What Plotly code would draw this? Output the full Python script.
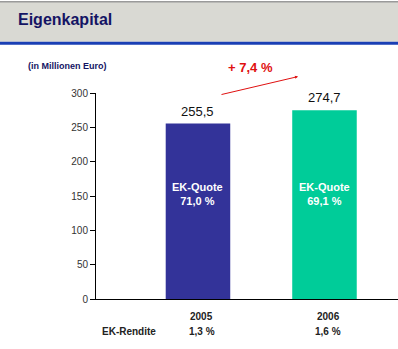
import plotly.graph_objects as go

# Equity (Eigenkapital) in million euro
years = ["2005", "2006"]
equity = [255.5, 274.7]
equity_ratio = [71.0, 69.1]      # EK-Quote in %
return_on_equity = [1.3, 1.6]    # EK-Rendite in %
growth_pct = 7.4
bar_colors = ["#333399", "#00CC99"]
y_ticks = [0, 50, 100, 150, 200, 250, 300]

W_PAGE, H_PAGE = 398, 349
L, R, T, B = 96, 398, 92.5, 299.5
PW, PH = R - L, B - T


def px(x):
    return (x - L) / PW


def py(y):
    return (B - y) / PH


def de(v):
    return f"{v:.1f}".replace(".", ",")


FONT = "Liberation Sans, Arial, sans-serif"

fig = go.Figure()
fig.add_trace(go.Bar(
    x=years, y=equity, width=0.51,
    marker=dict(color=bar_colors, line=dict(width=0)),
    hoverinfo="skip",
))

shapes = [
    # header band
    dict(type="rect", xref="paper", yref="paper", x0=px(0), x1=px(W_PAGE),
         y0=py(41), y1=py(0), fillcolor="#d9d9d3", line=dict(width=0), layer="below"),
    dict(type="rect", xref="paper", yref="paper", x0=px(0), x1=px(W_PAGE),
         y0=py(1.5), y1=py(0), fillcolor="#9a9a9a", line=dict(width=0), layer="below"),
    dict(type="rect", xref="paper", yref="paper", x0=px(0), x1=px(W_PAGE),
         y0=py(44), y1=py(41), fillcolor="#1a3fb5", line=dict(width=0), layer="below"),
]

annotations = [
    dict(text="<b>Eigenkapital</b>", xref="paper", yref="paper", x=px(16), y=py(19),
         xanchor="left", yanchor="middle", showarrow=False,
         font=dict(family=FONT, size=16, color="#141464")),
    dict(text="<b>(in Millionen Euro)</b>", xref="paper", yref="paper", x=px(26), y=py(65),
         xanchor="left", yanchor="middle", showarrow=False,
         font=dict(family=FONT, size=9, color="#141464")),
    dict(text=f"<b>+ {de(growth_pct)} %</b>", xref="paper", yref="paper", x=px(250), y=py(67),
         xanchor="center", yanchor="middle", showarrow=False,
         font=dict(family=FONT, size=13, color="#e01010")),
    # growth arrow (tail offset given in pixels)
    dict(text="", xref="paper", yref="paper", axref="pixel", ayref="pixel",
         x=px(298), y=py(76), ax=-78, ay=18.3, showarrow=True,
         arrowhead=2, arrowsize=0.6, arrowwidth=1, arrowcolor="#e01010"),
    dict(text="<b>EK-Rendite</b>", xref="paper", yref="paper", x=px(129), y=py(332),
         xanchor="center", yanchor="middle", showarrow=False,
         font=dict(family=FONT, size=10, color="#222222")),
]

for i, (yr, v, q, r) in enumerate(zip(years, equity, equity_ratio, return_on_equity)):
    annotations.append(dict(text=de(v), x=i, y=v, xref="x", yref="y", yanchor="bottom",
                            yshift=3, showarrow=False,
                            font=dict(family=FONT, size=13, color="#111111")))
    annotations.append(dict(text=f"<b>EK-Quote<br>{de(q)} %</b>", x=i, xref="x", yref="paper",
                            y=py(194), yanchor="middle", showarrow=False,
                            font=dict(family=FONT, size=11, color="white")))
    annotations.append(dict(text=f"<b>{yr}</b>", x=i, xref="x", yref="paper", y=py(317),
                            yanchor="middle", xshift=4, showarrow=False,
                            font=dict(family=FONT, size=10, color="#222222")))
    annotations.append(dict(text=f"<b>{de(r)} %</b>", x=i, xref="x", yref="paper", y=py(332),
                            yanchor="middle", xshift=4, showarrow=False,
                            font=dict(family=FONT, size=10, color="#222222")))

fig.update_layout(
    width=W_PAGE, height=H_PAGE,
    margin=dict(l=L, r=W_PAGE - R, t=T, b=H_PAGE - B, pad=0),
    paper_bgcolor="white", plot_bgcolor="white",
    showlegend=False,
    shapes=shapes, annotations=annotations,
    xaxis=dict(type="category", range=[-0.806, 1.581], showline=True, linecolor="black",
               linewidth=1, ticks="", showticklabels=False, showgrid=False, zeroline=False,
               fixedrange=True),
    yaxis=dict(range=[0, 300], tickvals=y_ticks, showline=True, linecolor="black", linewidth=1,
               ticks="outside", ticklen=5, tickcolor="black", showgrid=False, zeroline=False,
               tickfont=dict(family=FONT, size=10, color="#333333"), fixedrange=True),
)

fig.write_html("out.html", config={"displayModeBar": False})
